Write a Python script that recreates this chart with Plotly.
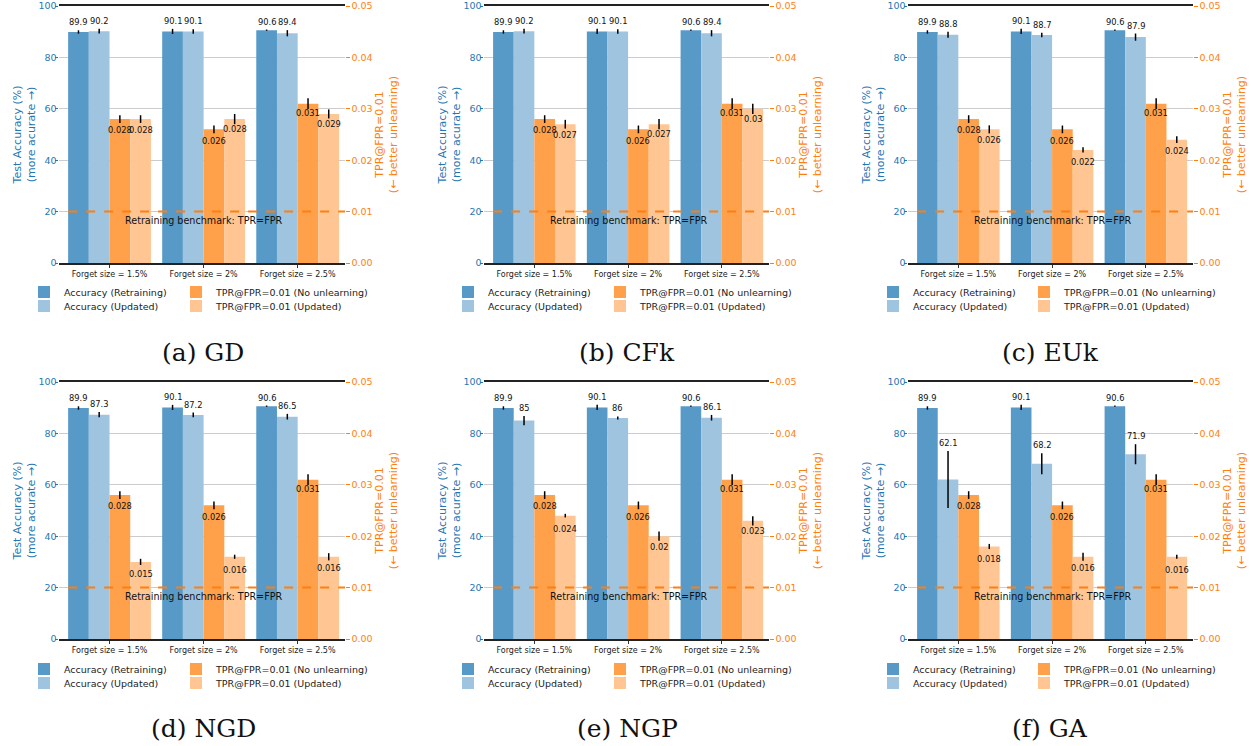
import plotly.graph_objects as go

# ---------------- data ----------------
CATEGORIES = ["Forget size = 1.5%", "Forget size = 2%", "Forget size = 2.5%"]
CAPTIONS = ["(a) GD", "(b) CFk", "(c) EUk", "(d) NGD", "(e) NGP", "(f) GA"]
SERIES_NAMES = ["Accuracy (Retraining)", "Accuracy (Updated)",
                "TPR@FPR=0.01 (No unlearning)", "TPR@FPR=0.01 (Updated)"]
BENCHMARK_TPR = 0.01
BENCHMARK_TEXT = "Retraining benchmark: TPR=FPR"

retrain_acc = [89.9, 90.1, 90.6]
retrain_acc_err = [0.65, 1.0, 0.25]
nounlearn_tpr = [0.028, 0.026, 0.031]
nounlearn_tpr_err = [0.00075, 0.00075, 0.00105]

gd_acc = [90.2, 90.1, 89.4]
gd_acc_err = [0.9, 0.9, 1.2]
gd_tpr = [0.028, 0.028, 0.029]
gd_tpr_err = [0.00075, 0.001, 0.00088]

cfk_acc = [90.2, 90.1, 89.4]
cfk_acc_err = [0.9, 0.9, 1.2]
cfk_tpr = [0.027, 0.027, 0.03]
cfk_tpr_err = [0.00085, 0.001, 0.001]

euk_acc = [88.8, 88.7, 87.9]
euk_acc_err = [1.2, 0.9, 1.4]
euk_tpr = [0.026, 0.022, 0.024]
euk_tpr_err = [0.00078, 0.0005, 0.00065]

ngd_acc = [87.3, 87.2, 86.5]
ngd_acc_err = [1.0, 0.9, 1.1]
ngd_tpr = [0.015, 0.016, 0.016]
ngd_tpr_err = [0.0006, 0.0004, 0.0007]

ngp_acc = [85, 86, 86.1]
ngp_acc_err = [1.8, 0.6, 1.1]
ngp_tpr = [0.024, 0.02, 0.023]
ngp_tpr_err = [0.00035, 0.0009, 0.0009]

ga_acc = [62.1, 68.2, 71.9]
ga_acc_err = [11.1, 4.1, 3.9]
ga_tpr = [0.018, 0.016, 0.016]
ga_tpr_err = [0.0005, 0.0008, 0.0004]

panels = [
    (gd_acc, gd_acc_err, gd_tpr, gd_tpr_err),
    (cfk_acc, cfk_acc_err, cfk_tpr, cfk_tpr_err),
    (euk_acc, euk_acc_err, euk_tpr, euk_tpr_err),
    (ngd_acc, ngd_acc_err, ngd_tpr, ngd_tpr_err),
    (ngp_acc, ngp_acc_err, ngp_tpr, ngp_tpr_err),
    (ga_acc, ga_acc_err, ga_tpr, ga_tpr_err),
]

# ---------------- style / geometry ----------------
W, H = 1253, 746
BLUE = "#1f77b4"
ORANGE = "#ff7f0e"
COLORS = ["#5799c7", "#9fc4e0", "#ffa04b", "#ffc693"]
BAR_W = 0.22
X_RANGE = [-0.537, 2.503]
COLS_PX = [(59, 345), (484, 769), (908, 1193)]
ROWS_PX = [(6, 263), (382, 639)]
LEGEND_TEXT_X = [(64, 216), (488, 640), (913, 1064)]
LEGEND_ROW_Y = [(292, 306), (669, 683)]
CAPTION_X = [203, 627, 1050]
CAPTION_Y = [352, 728]
FONT = "DejaVu Sans"


def fx(px):
    return px / W


def fy(py):
    return 1 - py / H


fig = go.Figure()
annotations = []
shapes = []
layout_axes = {}
legend_defs = {}
legend_counter = 0

for p, (acc, acc_err, tpr, tpr_err) in enumerate(panels):
    r, c = divmod(p, 3)
    xname = "x" if p == 0 else f"x{p+1}"
    xkey = "xaxis" if p == 0 else f"xaxis{p+1}"
    ya_n, yb_n = 2 * p + 1, 2 * p + 2
    yaname = "y" if ya_n == 1 else f"y{ya_n}"
    yakey = "yaxis" if ya_n == 1 else f"yaxis{ya_n}"
    ybname = f"y{yb_n}"
    ybkey = f"yaxis{yb_n}"

    x0p, x1p = COLS_PX[c]
    topp, botp = ROWS_PX[r]
    xdom = [fx(x0p), fx(x1p)]
    ydom = [fy(botp), fy(topp)]

    series = [
        (SERIES_NAMES[0], retrain_acc, retrain_acc_err, yaname, COLORS[0], -2, True),
        (SERIES_NAMES[1], acc, acc_err, yaname, COLORS[1], -1, True),
        (SERIES_NAMES[2], nounlearn_tpr, nounlearn_tpr_err, ybname, COLORS[2], 0, False),
        (SERIES_NAMES[3], tpr, tpr_err, ybname, COLORS[3], 1, False),
    ]
    for si, (name, vals, errs, yax, col, k, is_acc) in enumerate(series):
        legend_counter += 1
        lkey = "legend" if legend_counter == 1 else f"legend{legend_counter}"
        fig.add_trace(go.Bar(
            x=list(range(len(CATEGORIES))), y=vals, width=BAR_W, offset=k * BAR_W,
            marker=dict(color=col, line=dict(width=0)),
            error_y=dict(type="data", array=errs, color="black", thickness=1.5, width=0),
            xaxis=xname, yaxis=yax, name=name, legend=lkey, showlegend=True,
            hoverinfo="skip",
        ))
        lc, lr = divmod(si, 2)
        tx = LEGEND_TEXT_X[c][lc]
        ty = LEGEND_ROW_Y[r][lr]
        legend_defs[lkey] = dict(
            x=fx(tx - 40), y=fy(ty), xanchor="left", yanchor="middle",
            bgcolor="rgba(0,0,0,0)", borderwidth=0,
            font=dict(family=FONT, size=9.5, color="#222"),
        )
        for j, (v, e) in enumerate(zip(vals, errs)):
            annotations.append(dict(
                x=j + (k + 0.5) * BAR_W, y=v + e, xref=xname, yref=yax,
                text=f"{v:g}", showarrow=False, yanchor="middle",
                yshift=8 if is_acc else -15,
                font=dict(family=FONT, size=8.3, color="#111"),
            ))

    # benchmark line + text
    shapes.append(dict(type="line", xref=xname, yref=ybname,
                       x0=-2 * BAR_W, x1=X_RANGE[1], y0=BENCHMARK_TPR, y1=BENCHMARK_TPR,
                       line=dict(color=ORANGE, width=2, dash="dash"), layer="above"))
    annotations.append(dict(x=1, y=BENCHMARK_TPR, xref=xname, yref=ybname,
                            text=BENCHMARK_TEXT, showarrow=False, yanchor="middle",
                            yshift=-9, font=dict(family=FONT, size=9.6, color="#111")))
    # caption
    annotations.append(dict(x=fx(CAPTION_X[c]), y=fy(CAPTION_Y[r]),
                            xref="paper", yref="paper", text=CAPTIONS[p],
                            showarrow=False, xanchor="center", yanchor="middle",
                            font=dict(family="DejaVu Serif", size=25, color="#111")))

    layout_axes[xkey] = dict(
        domain=xdom, anchor=yaname, range=X_RANGE, tickmode="array",
        tickvals=list(range(len(CATEGORIES))), ticktext=CATEGORIES,
        tickfont=dict(family=FONT, size=8, color="#222"),
        ticks="outside", ticklen=3, tickcolor="#333",
        showline=True, mirror=True, linecolor="#222", linewidth=1.6,
        showgrid=False, zeroline=False, automargin=False, fixedrange=True,
    )
    layout_axes[yakey] = dict(
        domain=ydom, anchor=xname, range=[0, 100], tickmode="linear", tick0=0, dtick=20,
        tickfont=dict(family=FONT, size=9.5, color=BLUE),
        ticks="outside", ticklen=3.5, tickcolor=BLUE, ticklabelstandoff=-4,
        showgrid=True, gridcolor="#cccccc", gridwidth=1.3,
        zeroline=False, showline=False, automargin=False, fixedrange=True,
        title=dict(text="Test Accuracy (%)<br>(more acurate →)", standoff=0,
                   font=dict(family=FONT, size=11, color=BLUE)),
    )
    layout_axes[ybkey] = dict(
        domain=ydom, anchor=xname, overlaying=yaname, side="right",
        range=[0, 0.05], tickmode="linear", tick0=0, dtick=0.01, tickformat=".2f",
        tickfont=dict(family=FONT, size=9.5, color=ORANGE),
        ticks="outside", ticklen=3.5, tickcolor=ORANGE, ticklabelstandoff=0,
        showgrid=False, zeroline=False, showline=False, automargin=False, fixedrange=True,
        title=dict(text="TPR@FPR=0.01<br>(← better unlearning)", standoff=2,
                   font=dict(family=FONT, size=11, color=ORANGE)),
    )

fig.update_layout(
    width=W, height=H, template="none",
    margin=dict(l=0, r=0, t=0, b=0),
    paper_bgcolor="white", plot_bgcolor="white",
    barmode="overlay",
    font=dict(family=FONT, size=10, color="#222"),
    annotations=annotations, shapes=shapes,
    **layout_axes, **legend_defs,
)

fig.write_html("out.html", config={"displayModeBar": False},
               post_script="document.body.style.margin='0';")
